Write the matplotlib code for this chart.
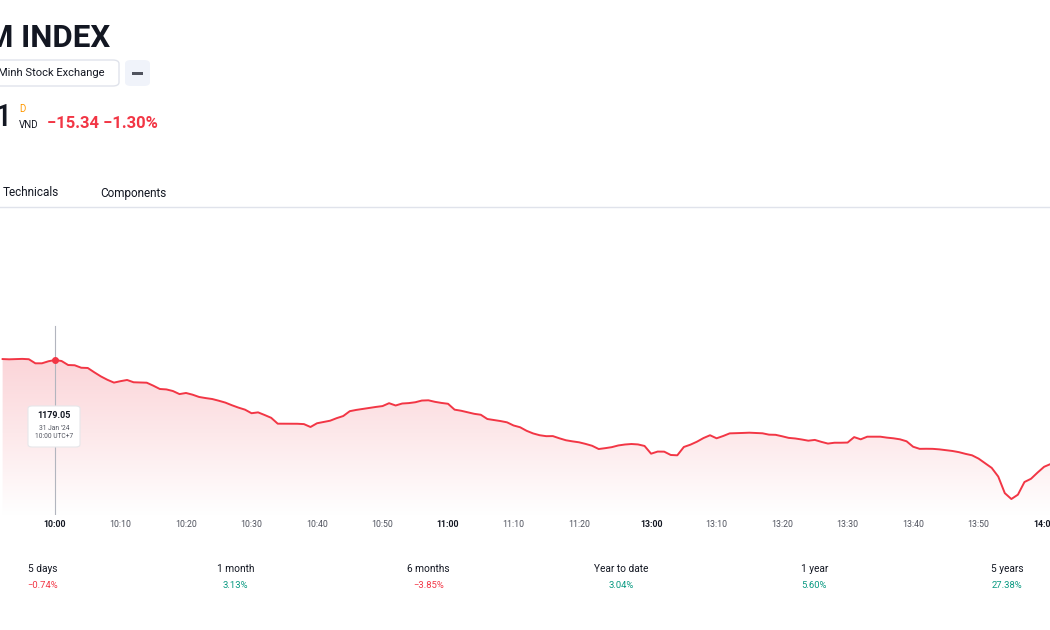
import matplotlib.pyplot as plt
from matplotlib.patches import FancyBboxPatch, Rectangle
import numpy as np
import pandas as pd

plt.rcParams['font.family'] = ['Roboto', 'DejaVu Sans']

# sessions (lunch break is compressed out of the axis)
morning_start, morning_end = "2024-01-31 09:52", "2024-01-31 11:30"
afternoon_start, afternoon_end = "2024-01-31 13:00", "2024-01-31 14:01"

morning_prices = [
    1179.16, 1179.13, 1179.16, 1179.18, 1179.14, 1178.66, 1178.66, 1178.90,
    1179.05, 1178.93, 1178.46, 1178.43, 1178.14, 1178.11, 1177.60, 1177.12, 1176.72, 1176.39,
    1176.56, 1176.70, 1176.43, 1176.40, 1176.38, 1176.03, 1175.64, 1175.59, 1175.40, 1175.04,
    1175.17, 1174.97, 1174.70, 1174.57, 1174.46, 1174.26, 1174.04, 1173.73, 1173.45, 1173.21,
    1172.79, 1172.89, 1172.58, 1172.25, 1171.56, 1171.56, 1171.56, 1171.55, 1171.51, 1171.17,
    1171.61, 1171.76, 1171.91, 1172.21, 1172.46, 1173.03, 1173.18, 1173.30, 1173.42, 1173.53,
    1173.63, 1173.97, 1173.70, 1173.93, 1173.98, 1174.08, 1174.28, 1174.31, 1174.13, 1174.00,
    1173.90, 1173.21, 1173.08, 1172.90, 1172.72, 1172.61, 1172.11, 1171.99, 1171.87, 1171.72,
    1171.35, 1171.14, 1170.72, 1170.41, 1170.20, 1170.09, 1170.10, 1169.84, 1169.61, 1169.48,
    1169.37, 1169.18, 1168.96, 1168.58, 1168.68, 1168.80, 1169.00, 1169.11, 1169.17, 1169.12, 1168.94,
]
afternoon_prices = [
    1168.03, 1168.28, 1168.27, 1167.88, 1167.84, 1168.82, 1169.09, 1169.44, 1169.87, 1170.20,
    1169.84, 1170.11, 1170.42, 1170.44, 1170.47, 1170.50, 1170.47, 1170.43, 1170.27, 1170.25,
    1170.08, 1169.89, 1169.82, 1169.70, 1169.56, 1169.65, 1169.42, 1169.22, 1169.32, 1169.32,
    1169.34, 1169.98, 1169.72, 1170.03, 1170.03, 1170.03, 1169.92, 1169.84, 1169.72, 1169.49,
    1168.85, 1168.60, 1168.61, 1168.60, 1168.54, 1168.45, 1168.35, 1168.21, 1168.01, 1167.84,
    1167.45, 1166.91, 1166.36, 1165.34, 1163.39, 1162.70, 1163.21, 1164.70, 1165.08, 1165.81,
    1166.49, 1166.82,
]

hover_time = "10:00"
hover_value = "1179.05"
hover_date = "31 Jan '24"

periods = ["5 days", "1 month", "6 months", "Year to date", "1 year", "5 years"]
period_changes = [-0.74, 3.13, -3.85, 3.04, 5.60, 27.38]

RED = "#f23645"
GREEN = "#089981"
DARK = "#131722"
GREY = "#50535e"

morning_times = list(pd.date_range(morning_start, morning_end, freq="min"))
afternoon_times = list(pd.date_range(afternoon_start, afternoon_end, freq="min"))
times = morning_times + afternoon_times
prices = np.array(morning_prices + afternoon_prices)
hover_idx = [t.strftime("%H:%M") for t in times].index(hover_time)
xs = np.arange(len(prices)) - hover_idx

W, H = 1050, 630
fig = plt.figure(figsize=(W / 100, H / 100), dpi=100)


def fx(x):
    return x / W


def fy(y):
    return 1 - y / H


# ---- header (cut off on the left like the screenshot) ----
fig.text(fx(110), fy(38), "M INDEX", ha="right", va="center", fontsize=22.5,
         fontweight="bold", color=DARK)
fig.patches.append(FancyBboxPatch((fx(-20), fy(86)), fx(139), 26 / H,
                                  boxstyle="round,pad=0,rounding_size=0.006",
                                  transform=fig.transFigure, fc="white", ec="#e0e3eb", lw=1))
fig.text(fx(104), fy(73), "Minh Stock Exchange", ha="right", va="center",
         fontsize=8, color=DARK)
fig.patches.append(FancyBboxPatch((fx(125), fy(86)), fx(25), 26 / H,
                                  boxstyle="round,pad=0,rounding_size=0.006",
                                  transform=fig.transFigure, fc="#f0f3fa", ec="none"))
fig.patches.append(Rectangle((fx(132), fy(74.5)), fx(11), 3 / H,
                             transform=fig.transFigure, fc="#50535e", ec="none"))

fig.text(fx(12), fy(118), "1", ha="right", va="center", fontsize=22,
         fontweight="medium", color=DARK)
fig.text(fx(19), fy(109), "D", ha="left", va="center", fontsize=7, color="#ff9800")
fig.text(fx(19), fy(125), "VND", ha="left", va="center", fontsize=7, color=DARK)
fig.text(fx(47), fy(124), "\u221215.34 \u22121.30%", ha="left", va="center",
         fontsize=12, fontweight="bold", color=RED)

fig.text(fx(3), fy(193), "Technicals", ha="left", va="center", fontsize=8.5, color=DARK)
fig.text(fx(100), fy(193), "Components", ha="left", va="center", fontsize=8.5, color=DARK)
fig.add_artist(plt.Line2D([0, 1], [fy(207), fy(207)], transform=fig.transFigure,
                          color="#e0e3eb", lw=1))

# ---- chart ----
ax = fig.add_axes([0, fy(515), 1, 305 / H])
ax.set_xlim(-8.4, 151.9)
ax.set_ylim(1160.82, 1196.69)
ax.axis("off")
ax.set_facecolor("none")

fill = ax.fill_between(xs, prices, 1160.82, color="none", lw=0)
grad = np.linspace(0, 1, 256).reshape(-1, 1)
cmap = plt.matplotlib.colors.LinearSegmentedColormap.from_list(
    "fade", ["#ffffff", "#fde8ea", "#fbd3d7"])
img = ax.imshow(grad, cmap=cmap, aspect="auto", origin="lower",
                extent=[-8.4, 151.9, 1160.82, 1180.0], zorder=1)
img.set_clip_path(fill.get_paths()[0], transform=ax.transData)

ax.plot(xs, prices, color=RED, lw=1.4, zorder=3)

# crosshair + hovered point
ax.axvline(0, ymax=0.62, color="#b2b5be", lw=0.8, zorder=2)
ax.plot(0, prices[hover_idx], "o", color=RED, ms=4, zorder=4)

# tooltip
fig.patches.append(FancyBboxPatch((fx(28), fy(447)), fx(52), 41 / H,
                                  boxstyle="round,pad=0,rounding_size=0.004",
                                  transform=fig.transFigure, fc="white",
                                  ec="#e6e7ea", lw=0.8, zorder=5))
fig.text(fx(54), fy(415), hover_value, ha="center", va="center", fontsize=6.5,
         fontweight="bold", color=DARK, zorder=6)
fig.text(fx(54), fy(429), hover_date, ha="center", va="center", fontsize=4.8,
         color=GREY, zorder=6)
fig.text(fx(54), fy(437), hover_time + " UTC+7", ha="center", va="center",
         fontsize=4.8, color=GREY, zorder=6)

# time axis labels (session close 11:30 is not labelled)
for x, t in zip(xs, times):
    if t.minute % 10 == 0 and t != morning_times[-1]:
        bold = t.minute == 0
        ax.text(x, -0.03, t.strftime("%H:%M"), transform=ax.get_xaxis_transform(),
                ha="center", va="center", fontsize=6.3, color=DARK if bold else GREY,
                fontweight="bold" if bold else "normal", clip_on=False)

# ---- performance row ----
for i, (name, chg) in enumerate(zip(periods, period_changes)):
    cx = 43 + i * 192.8
    fig.text(fx(cx), fy(569), name, ha="center", va="center", fontsize=7.3, color=DARK)
    col = GREEN if chg >= 0 else RED
    txt = f"{chg:.2f}%".replace("-", "\u2212")
    fig.text(fx(cx), fy(585), txt, ha="center", va="center", fontsize=6.8, color=col)

fig.savefig("out.png", dpi=100, facecolor="white")
